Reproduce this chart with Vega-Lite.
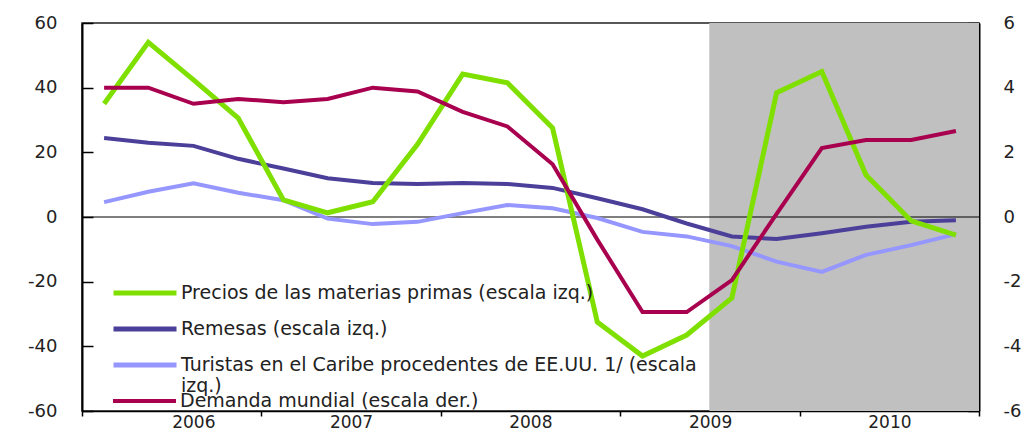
{
  "$schema": "https://vega.github.io/schema/vega-lite/v6.json",
  "width": 897,
  "height": 388,
  "autosize": {"type": "none"},
  "padding": {"left": 82, "top": 23, "right": 52, "bottom": 21},
  "background": "white",
  "config": {
    "view": {"stroke": "#222", "strokeWidth": 1.5},
    "font": "DejaVu Sans",
    "axis": {"labelFont": "DejaVu Sans", "labelFontSize": 18, "labelColor": "#222", "domainColor": "#000", "tickColor": "#000", "grid": false, "title": null, "zindex": 1},
    "legend": {
      "orient": "none", "legendX": 29, "legendY": 260, "title": null, "padding": 0,
      "symbolType": "stroke", "symbolSize": 3969, "symbolStrokeWidth": 5, "clipHeight": 20,
      "rowPadding": 16, "labelOffset": 2, "labelFont": "DejaVu Sans", "labelFontSize": 19,
      "labelColor": "#222", "labelLimit": 1000
    }
  },
  "datasets": {
    "series": [
      {"fecha": "2006-02-15", "serie": "Precios de las materias primas (escala izq.)", "valor": 35},
      {"fecha": "2006-05-16", "serie": "Precios de las materias primas (escala izq.)", "valor": 54},
      {"fecha": "2006-08-16", "serie": "Precios de las materias primas (escala izq.)", "valor": 42.4},
      {"fecha": "2006-11-15", "serie": "Precios de las materias primas (escala izq.)", "valor": 30.6},
      {"fecha": "2007-02-15", "serie": "Precios de las materias primas (escala izq.)", "valor": 5.3},
      {"fecha": "2007-05-16", "serie": "Precios de las materias primas (escala izq.)", "valor": 1.3},
      {"fecha": "2007-08-16", "serie": "Precios de las materias primas (escala izq.)", "valor": 4.7},
      {"fecha": "2007-11-15", "serie": "Precios de las materias primas (escala izq.)", "valor": 22.5},
      {"fecha": "2008-02-15", "serie": "Precios de las materias primas (escala izq.)", "valor": 44.2},
      {"fecha": "2008-05-16", "serie": "Precios de las materias primas (escala izq.)", "valor": 41.5},
      {"fecha": "2008-08-16", "serie": "Precios de las materias primas (escala izq.)", "valor": 27.5},
      {"fecha": "2008-11-15", "serie": "Precios de las materias primas (escala izq.)", "valor": -32.5},
      {"fecha": "2009-02-15", "serie": "Precios de las materias primas (escala izq.)", "valor": -43},
      {"fecha": "2009-05-16", "serie": "Precios de las materias primas (escala izq.)", "valor": -36.5},
      {"fecha": "2009-08-16", "serie": "Precios de las materias primas (escala izq.)", "valor": -25},
      {"fecha": "2009-11-15", "serie": "Precios de las materias primas (escala izq.)", "valor": 38.4},
      {"fecha": "2010-02-15", "serie": "Precios de las materias primas (escala izq.)", "valor": 45},
      {"fecha": "2010-05-16", "serie": "Precios de las materias primas (escala izq.)", "valor": 13},
      {"fecha": "2010-08-16", "serie": "Precios de las materias primas (escala izq.)", "valor": -1.2},
      {"fecha": "2010-11-15", "serie": "Precios de las materias primas (escala izq.)", "valor": -5.6},
      {"fecha": "2006-02-15", "serie": "Remesas (escala izq.)", "valor": 24.4},
      {"fecha": "2006-05-16", "serie": "Remesas (escala izq.)", "valor": 23},
      {"fecha": "2006-08-16", "serie": "Remesas (escala izq.)", "valor": 22},
      {"fecha": "2006-11-15", "serie": "Remesas (escala izq.)", "valor": 18},
      {"fecha": "2007-02-15", "serie": "Remesas (escala izq.)", "valor": 15},
      {"fecha": "2007-05-16", "serie": "Remesas (escala izq.)", "valor": 12},
      {"fecha": "2007-08-16", "serie": "Remesas (escala izq.)", "valor": 10.5},
      {"fecha": "2007-11-15", "serie": "Remesas (escala izq.)", "valor": 10.2},
      {"fecha": "2008-02-15", "serie": "Remesas (escala izq.)", "valor": 10.5},
      {"fecha": "2008-05-16", "serie": "Remesas (escala izq.)", "valor": 10.2},
      {"fecha": "2008-08-16", "serie": "Remesas (escala izq.)", "valor": 9},
      {"fecha": "2008-11-15", "serie": "Remesas (escala izq.)", "valor": 5.8},
      {"fecha": "2009-02-15", "serie": "Remesas (escala izq.)", "valor": 2.4},
      {"fecha": "2009-05-16", "serie": "Remesas (escala izq.)", "valor": -2},
      {"fecha": "2009-08-16", "serie": "Remesas (escala izq.)", "valor": -6},
      {"fecha": "2009-11-15", "serie": "Remesas (escala izq.)", "valor": -6.8},
      {"fecha": "2010-02-15", "serie": "Remesas (escala izq.)", "valor": -5},
      {"fecha": "2010-05-16", "serie": "Remesas (escala izq.)", "valor": -3},
      {"fecha": "2010-08-16", "serie": "Remesas (escala izq.)", "valor": -1.5},
      {"fecha": "2010-11-15", "serie": "Remesas (escala izq.)", "valor": -1},
      {"fecha": "2006-02-15", "serie": "Turistas en el Caribe procedentes de EE.UU. 1/ (escala izq.)", "valor": 4.6},
      {"fecha": "2006-05-16", "serie": "Turistas en el Caribe procedentes de EE.UU. 1/ (escala izq.)", "valor": 7.8},
      {"fecha": "2006-08-16", "serie": "Turistas en el Caribe procedentes de EE.UU. 1/ (escala izq.)", "valor": 10.4},
      {"fecha": "2006-11-15", "serie": "Turistas en el Caribe procedentes de EE.UU. 1/ (escala izq.)", "valor": 7.5},
      {"fecha": "2007-02-15", "serie": "Turistas en el Caribe procedentes de EE.UU. 1/ (escala izq.)", "valor": 5.2},
      {"fecha": "2007-05-16", "serie": "Turistas en el Caribe procedentes de EE.UU. 1/ (escala izq.)", "valor": -0.5},
      {"fecha": "2007-08-16", "serie": "Turistas en el Caribe procedentes de EE.UU. 1/ (escala izq.)", "valor": -2.2},
      {"fecha": "2007-11-15", "serie": "Turistas en el Caribe procedentes de EE.UU. 1/ (escala izq.)", "valor": -1.5},
      {"fecha": "2008-02-15", "serie": "Turistas en el Caribe procedentes de EE.UU. 1/ (escala izq.)", "valor": 1.2},
      {"fecha": "2008-05-16", "serie": "Turistas en el Caribe procedentes de EE.UU. 1/ (escala izq.)", "valor": 3.7},
      {"fecha": "2008-08-16", "serie": "Turistas en el Caribe procedentes de EE.UU. 1/ (escala izq.)", "valor": 2.7},
      {"fecha": "2008-11-15", "serie": "Turistas en el Caribe procedentes de EE.UU. 1/ (escala izq.)", "valor": -0.3},
      {"fecha": "2009-02-15", "serie": "Turistas en el Caribe procedentes de EE.UU. 1/ (escala izq.)", "valor": -4.6},
      {"fecha": "2009-05-16", "serie": "Turistas en el Caribe procedentes de EE.UU. 1/ (escala izq.)", "valor": -6},
      {"fecha": "2009-08-16", "serie": "Turistas en el Caribe procedentes de EE.UU. 1/ (escala izq.)", "valor": -9},
      {"fecha": "2009-11-15", "serie": "Turistas en el Caribe procedentes de EE.UU. 1/ (escala izq.)", "valor": -13.8},
      {"fecha": "2010-02-15", "serie": "Turistas en el Caribe procedentes de EE.UU. 1/ (escala izq.)", "valor": -17},
      {"fecha": "2010-05-16", "serie": "Turistas en el Caribe procedentes de EE.UU. 1/ (escala izq.)", "valor": -11.7},
      {"fecha": "2010-08-16", "serie": "Turistas en el Caribe procedentes de EE.UU. 1/ (escala izq.)", "valor": -8.7},
      {"fecha": "2010-11-15", "serie": "Turistas en el Caribe procedentes de EE.UU. 1/ (escala izq.)", "valor": -5.3},
      {"fecha": "2006-02-15", "serie": "Demanda mundial (escala der.)", "valor": 4.0},
      {"fecha": "2006-05-16", "serie": "Demanda mundial (escala der.)", "valor": 4.0},
      {"fecha": "2006-08-16", "serie": "Demanda mundial (escala der.)", "valor": 3.5},
      {"fecha": "2006-11-15", "serie": "Demanda mundial (escala der.)", "valor": 3.65},
      {"fecha": "2007-02-15", "serie": "Demanda mundial (escala der.)", "valor": 3.55},
      {"fecha": "2007-05-16", "serie": "Demanda mundial (escala der.)", "valor": 3.65},
      {"fecha": "2007-08-16", "serie": "Demanda mundial (escala der.)", "valor": 4.0},
      {"fecha": "2007-11-15", "serie": "Demanda mundial (escala der.)", "valor": 3.88},
      {"fecha": "2008-02-15", "serie": "Demanda mundial (escala der.)", "valor": 3.25},
      {"fecha": "2008-05-16", "serie": "Demanda mundial (escala der.)", "valor": 2.8},
      {"fecha": "2008-08-16", "serie": "Demanda mundial (escala der.)", "valor": 1.63},
      {"fecha": "2008-11-15", "serie": "Demanda mundial (escala der.)", "valor": -0.7},
      {"fecha": "2009-02-15", "serie": "Demanda mundial (escala der.)", "valor": -2.94},
      {"fecha": "2009-05-16", "serie": "Demanda mundial (escala der.)", "valor": -2.94},
      {"fecha": "2009-08-16", "serie": "Demanda mundial (escala der.)", "valor": -1.95},
      {"fecha": "2009-11-15", "serie": "Demanda mundial (escala der.)", "valor": 0.1},
      {"fecha": "2010-02-15", "serie": "Demanda mundial (escala der.)", "valor": 2.13},
      {"fecha": "2010-05-16", "serie": "Demanda mundial (escala der.)", "valor": 2.38},
      {"fecha": "2010-08-16", "serie": "Demanda mundial (escala der.)", "valor": 2.38},
      {"fecha": "2010-11-15", "serie": "Demanda mundial (escala der.)", "valor": 2.66}
    ],
    "sombreado": [{"desde": "2009-07-01", "hasta": "2011-01-01"}],
    "cero": [{"valor": 0}]
  },
  "encoding": {
    "x": {
      "field": "fecha", "type": "temporal",
      "scale": {"type": "utc", "domain": [{"year": 2006, "month": 1, "date": 1, "utc": true}, {"year": 2011, "month": 1, "date": 1, "utc": true}]},
      "axis": {
        "values": [{"year": 2006, "month": 1, "date": 1, "utc": true}, {"year": 2007, "month": 1, "date": 1, "utc": true}, {"year": 2008, "month": 1, "date": 1, "utc": true}, {"year": 2009, "month": 1, "date": 1, "utc": true}, {"year": 2010, "month": 1, "date": 1, "utc": true}, {"year": 2011, "month": 1, "date": 1, "utc": true}],
        "format": "%Y",
        "labelExpr": "utcyear(datum.value) >= 2011 ? '' : datum.label",
        "labelOffset": 89.7,
        "labelPadding": -2,
        "labelFontSize": 17,
        "tickSize": 5,
        "tickWidth": 1.5,
        "domainWidth": 1.5
      }
    }
  },
  "layer": [
    {
      "data": {"name": "sombreado"},
      "mark": {"type": "rect", "color": "#c0c0c0", "opacity": 1},
      "encoding": {"x": {"field": "desde", "type": "temporal"}, "x2": {"field": "hasta"}}
    },
    {
      "encoding": {
        "y": {
          "type": "quantitative",
          "scale": {"domain": [-60, 60], "nice": false, "zero": false},
          "axis": {"orient": "left", "values": [-60, -40, -20, 0, 20, 40, 60], "labelExpr": "replace(datum.label, '\u2212', '-')", "tickSize": -11, "labelPadding": 36, "tickWidth": 1.5, "domainWidth": 2}
        },
        "color": {
          "field": "serie", "type": "nominal",
          "scale": {
            "domain": ["Precios de las materias primas (escala izq.)", "Remesas (escala izq.)", "Turistas en el Caribe procedentes de EE.UU. 1/ (escala izq.)"],
            "range": ["#7fe000", "#4b3f9a", "#9696ff"]
          },
          "legend": {
            "labelExpr": "datum.label === 'Turistas en el Caribe procedentes de EE.UU. 1/ (escala izq.)' ? ['Turistas en el Caribe procedentes de EE.UU. 1/ (escala', 'izq.)'] : datum.label"
          }
        }
      },
      "layer": [
        {
          "data": {"name": "cero"},
          "mark": {"type": "rule", "color": "#000", "strokeWidth": 1.2},
          "encoding": {"y": {"field": "valor", "type": "quantitative"}, "color": {"value": "#000"}, "x": {"value": 0}, "x2": {"value": 897}}
        },
        {
          "data": {"name": "series"},
          "transform": [{"filter": "datum.serie === 'Remesas (escala izq.)' || datum.serie === 'Turistas en el Caribe procedentes de EE.UU. 1/ (escala izq.)'"}],
          "mark": {"type": "line", "strokeWidth": 4},
          "encoding": {"y": {"field": "valor"}}
        },
        {
          "data": {"name": "series"},
          "transform": [{"filter": "datum.serie === 'Precios de las materias primas (escala izq.)'"}],
          "mark": {"type": "line", "strokeWidth": 5},
          "encoding": {"y": {"field": "valor"}}
        }
      ]
    },
    {
      "data": {"name": "series"},
      "transform": [{"filter": "datum.serie === 'Demanda mundial (escala der.)'"}],
      "mark": {"type": "line", "strokeWidth": 4},
      "encoding": {
        "y": {
          "field": "valor", "type": "quantitative",
          "scale": {"domain": [-6, 6], "nice": false, "zero": false},
          "axis": {"orient": "right", "values": [-6, -4, -2, 0, 2, 4, 6], "labelExpr": "replace(datum.label, '\u2212', '-')", "tickSize": -11, "labelPadding": 35, "tickWidth": 1.5, "domainWidth": 2}
        },
        "stroke": {
          "field": "serie", "type": "nominal",
          "scale": {"domain": ["Demanda mundial (escala der.)"], "range": ["#a8004e"]},
          "legend": {"legendY": 368, "symbolStrokeWidth": 4}
        }
      }
    }
  ],
  "resolve": {"scale": {"y": "independent"}}
}
